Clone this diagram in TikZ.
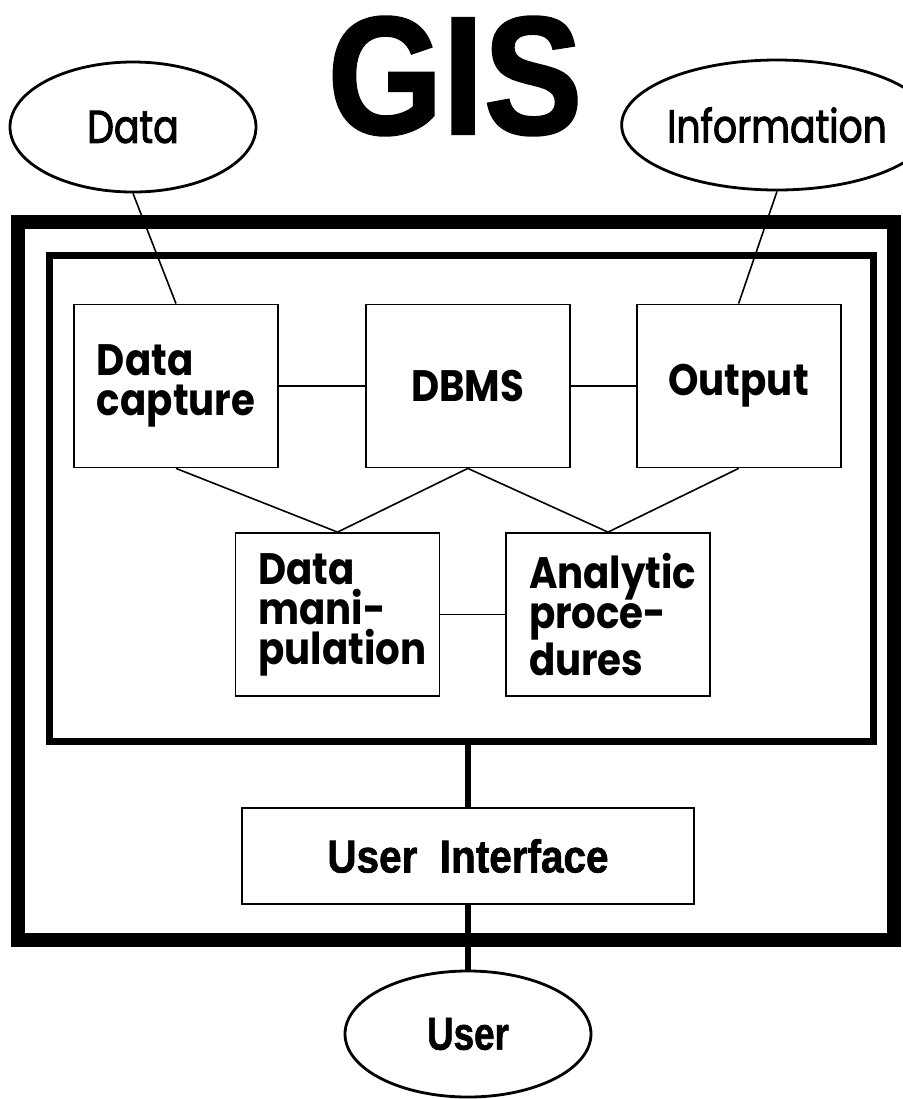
\documentclass[tikz,border=0pt]{standalone}
\usepackage{fontspec}
\setmainfont{Poppins}[FakeStretch=0.88]
\newfontfamily\midfont{Poppins}[FakeStretch=0.82,FakeBold=2]
\newfontfamily\heavyfont{Liberation Sans Bold}[FakeBold=1.5]
\usetikzlibrary{shapes.geometric,positioning}

\tikzset{
  blob/.style={ellipse,draw,line width=1.4pt,inner sep=0pt,
    minimum width=123pt,minimum height=65pt,font=\midfont\fontsize{23}{23}\selectfont},
  unit/.style={rectangle,draw,line width=0.9pt,inner sep=0pt,
    minimum width=102pt,minimum height=81.5pt,align=center,
    font=\bfseries\fontsize{22}{20}\selectfont},
  unitl/.style={unit,align=left,text width=79pt},
  frame/.style={rectangle,draw,inner sep=0pt},
  link/.style={line width=0.8pt},
  spine/.style={line width=2.8pt}
}

\begin{document}
\begin{tikzpicture}[x=0.5pt,y=-0.5pt]
  \useasboundingbox (0,0) rectangle (902,1099);

  % the two system frames
  \node[frame,line width=7pt,minimum width=438pt,minimum height=359pt] (outer) at (456,581) {};
  \node[frame,line width=3.5pt,minimum width=412pt,minimum height=243pt] (inner) at (461,498) {};

  \node (title) at (455,76) {\heavyfont\fontsize{84}{84}\selectfont\scalebox{0.88}[1]{GIS}};

  \node[blob] (data) at (133,127) {Data};
  \node[blob] (info) at (777,125) {Information};

  \node[unitl] (capture) at (176,386) {Data\\capture};
  \node[unit] (dbms) [right=43pt of capture] {DBMS};
  \node[unit] (output) [right=32.5pt of dbms] {Output};

  \node[unitl] (manip) at (337.5,614.5) {Data\\mani-\\pulation};
  \node[unitl] (analytic) at (608,614.5) {Analytic\\proce-\\dures};

  \node[unit,minimum width=226pt,minimum height=48pt,font=\heavyfont\fontsize{23}{23}\selectfont]
    (ui) at (468,856) {\scalebox{0.88}[1]{User\ \ Interface}};
  \node[blob,minimum height=63pt,font=\heavyfont\fontsize{23}{23}\selectfont]
    (user) at (468,1034) {\scalebox{0.8}[1]{User}};

  \path[link] (data.south) edge (capture.north)
    (info.south) edge (output.north)
    (capture) edge (dbms)
    (dbms) edge (output)
    (capture.south) edge (manip.north)
    (dbms.south) edge (manip.north)
    (dbms.south) edge (analytic.north)
    (output.south) edge (analytic.north)
    (manip) edge (analytic);

  \draw[spine] (inner.south -| ui.north) -- (ui.north);
  \draw[spine] (ui.south) -- (user.north);
\end{tikzpicture}
\end{document}
